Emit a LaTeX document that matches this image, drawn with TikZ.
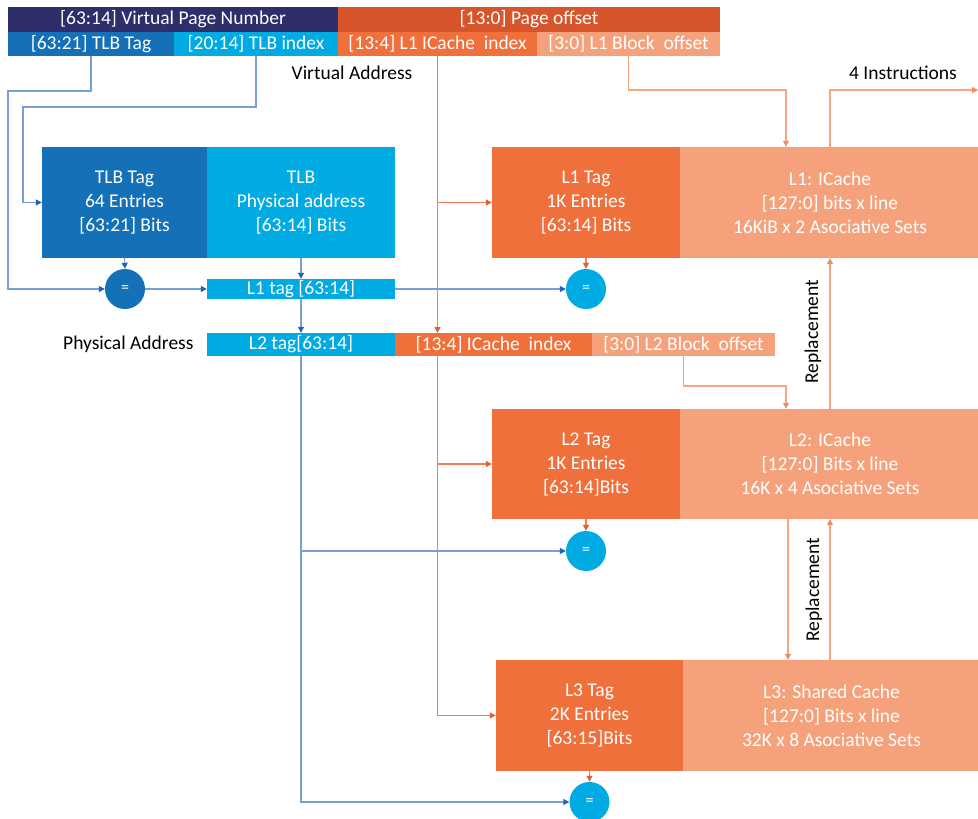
\documentclass[tikz,border=0pt]{standalone}
\usepackage{fontspec}
\setmainfont{Carlito}
\usepackage{xcolor}
\usetikzlibrary{arrows.meta}

\definecolor{vpnnavy}{RGB}{45,46,106}
\definecolor{offred}{RGB}{216,85,43}
\definecolor{tlbblue}{RGB}{20,112,183}
\definecolor{tlbcyan}{RGB}{0,171,227}
\definecolor{tagorange}{RGB}{240,112,60}
\definecolor{cachesalmon}{RGB}{245,162,124}
\definecolor{blueline}{RGB}{120,160,215}
\definecolor{bluetip}{RGB}{30,100,185}
\definecolor{orangeline}{RGB}{240,125,85}
\definecolor{orangetip}{RGB}{228,95,45}
\definecolor{salmonline}{RGB}{245,165,130}
\definecolor{salmontip}{RGB}{240,140,100}

\tikzset{
  bar/.style={rectangle, inner sep=0pt, text=white, minimum height=24pt},
  blk/.style={rectangle, inner sep=0pt, text=white, align=center, minimum height=111pt},
  eqnode/.style={circle, inner sep=0pt, minimum size=40pt, text=white,
    font=\fontsize{16}{16}\selectfont},
  bline/.style={draw=blueline, line width=1.1pt, -{Triangle[length=6pt,width=6pt,color=bluetip]}},
  oline/.style={draw=orangeline, line width=1.1pt, -{Triangle[length=6pt,width=6pt,color=orangetip]}},
  sline/.style={draw=salmonline, line width=1.1pt, -{Triangle[length=6pt,width=6pt,color=salmontip]}},
}

\begin{document}
\begin{tikzpicture}[x=1pt, y=-1pt, font=\fontsize{19.5}{24}\selectfont]
    \useasboundingbox (0,0) rectangle (978,819);
    % Virtual address
    \node[bar, fill=vpnnavy, minimum width=330pt, minimum height=25pt] (vpn) at (173,19.5) {[63:14] Virtual Page Number};
    \node[bar, fill=offred, minimum width=382pt, minimum height=25pt] (poff) at (529,19.5) {[13:0] Page offset};
    \node[bar, fill=tlbblue, minimum width=166pt] (tlbtag) at (91,44) {[63:21] TLB Tag};
    \node[bar, fill=tlbcyan, minimum width=164pt] (tlbidx) at (256,44) {[20:14] TLB index};
    \node[bar, fill=tagorange, minimum width=199pt] (l1idx) at (437.5,44) {[13:4] L1 ICache~ index};
    \node[bar, fill=cachesalmon, minimum width=183pt] (l1off) at (628.5,44) {[3:0] L1 Block~ offset};
    \node (va) at (352,73) {Virtual Address};
    % TLB
    \node[blk, fill=tlbblue, minimum width=165pt] (tlbt) at (124.5,202.5) {TLB Tag\\64 Entries\\{[63:21]} Bits};
    \node[blk, fill=tlbcyan, minimum width=188pt] (tlbpa) at (301,202.5) {TLB\\Physical address\\{[63:14]} Bits};
    \node[eqnode, fill=tlbblue] (eq1) at (125,289) {=};
    \node[bar, fill=tlbcyan, minimum width=188pt, minimum height=20pt] (l1tagbar) at (301,289) {L1 tag [63:14]};
    % Physical address
    \node[anchor=east] (pa) at (197,344.5) {Physical Address};
    \node[bar, fill=tlbcyan, minimum width=188pt, minimum height=23pt] (l2tagbar) at (301,344.5) {L2 tag[63:14]};
    \node[bar, fill=tagorange, minimum width=197pt, minimum height=23pt] (l2idx) at (493.5,344.5) {[13:4] ICache~ index};
    \node[bar, fill=cachesalmon, minimum width=183pt, minimum height=23pt] (l2off) at (683.5,344.5) {[3:0] L2 Block~ offset};
    % L1
    \node[blk, fill=tagorange, minimum width=188pt] (l1t) at (586,202.5) {L1 Tag\\1K Entries\\{[63:14]} Bits};
    \node[blk, fill=cachesalmon, minimum width=300pt] (l1c) at (830,202.5) {L1: ICache\\{[127:0]} bits x line\\16KiB x 2 Asociative Sets};
    \node[eqnode, fill=tlbcyan] (eq2) at (586,289) {=};
    % L2
    \node[blk, fill=tagorange, minimum width=188pt, minimum height=110pt] (l2t) at (586,464) {L2 Tag\\1K Entries\\{[63:14]}Bits};
    \node[blk, fill=cachesalmon, minimum width=300pt, minimum height=110pt] (l2c) at (830,464) {L2: ICache\\{[127:0]} Bits x line\\16K x 4 Asociative Sets};
    \node[eqnode, fill=tlbcyan] (eq3) at (586,551) {=};
    % L3
    \node[blk, fill=tagorange, minimum width=187pt] (l3t) at (589.5,715.5) {L3 Tag\\2K Entries\\{[63:15]}Bits};
    \node[blk, fill=cachesalmon, minimum width=297pt] (l3c) at (831.5,715.5) {L3: Shared Cache\\{[127:0]} Bits x line\\32K x 8 Asociative Sets};
    \node[eqnode, fill=tlbcyan] (eq4) at (589.5,802) {=};
    % Conexoes TLB
    \draw[bline] (tlbtag.south) -- (91,91) -- (8,91) |- (eq1.west);
    \draw[bline] (tlbidx.south) -- (256,107) -- (23,107) |- (tlbt.west);
    \draw[bline] (tlbt.south) -- (eq1.north);
    \draw[bline] (tlbpa.south) -- (l1tagbar.north);
    \draw[bline] (eq1.east) -- (l1tagbar.west);
    \draw[bline] (l1tagbar.east) -- (eq2.west);
    \draw[bline] (l1tagbar.south) -- (l2tagbar.north);
    \draw[bline] (l2tagbar.south) |- (eq3.west);
    \draw[bline] (l2tagbar.south) |- (eq4.west);
    % Indices
    \draw[oline] (l1idx.south) |- (l1t.west);
    \draw[oline] (l1idx.south) -- (437.5,333);
    \draw[oline] (437.5,356) |- (l2t.west);
    \draw[oline] (437.5,356) |- (l3t.west);
    \draw[oline] (l1t.south) -- (eq2.north);
    \draw[oline] (l2t.south) -- (eq3.north);
    \draw[oline] (l3t.south) -- (eq4.north);
    % Offsets e substituicao
    \coordinate (instr) at (978,90);
    \draw[sline] (l1off.south) -- (628.5,90) -| ([xshift=-44pt]l1c.north);
    \draw[sline] (l1c.north) |- (instr);
    \node (ins) at (903,73) {4 Instructions};
    \draw[sline] (l2off.south) -- (683.5,386) -| ([xshift=-44pt]l2c.north);
    \draw[sline] (l2c.north) -- (l1c.south);
    \draw[sline] ([xshift=-42pt]l2c.south) -- ([xshift=-42pt]l2c.south |- l3c.north);
    \draw[sline] (l2c.south |- l3c.north) -- (l2c.south);
    \node[rotate=90] (rep1) at (813,332) {Replacement};
    \node[rotate=90] (rep2) at (814,590) {Replacement};
\end{tikzpicture}
\end{document}
